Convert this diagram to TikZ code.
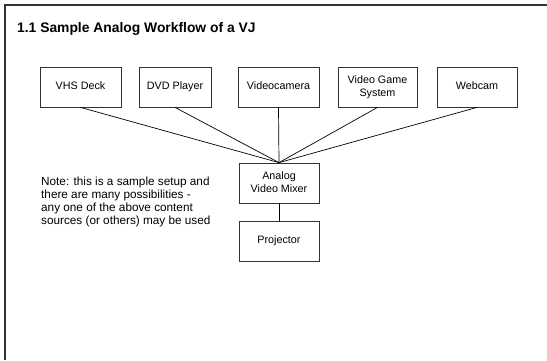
\documentclass[tikz,border=0pt]{standalone}
\usepackage{fontspec}
\setmainfont{Liberation Sans}
\begin{document}
\begin{tikzpicture}[x=1bp,y=-1bp,
  srcbox/.style={draw=black!80, line width=0.8bp, inner sep=0pt, minimum height=40bp,
    align=center, font=\fontsize{10.8}{13.3}\selectfont,
    execute at begin node={\vphantom{Ag}}, execute at end node={\vphantom{g}}},
  link/.style={draw=black, line width=0.7bp},
  frame/.style={draw=black!80, line width=2.8bp}]
\useasboundingbox (0,0) rectangle (547,360);
\draw[frame] (5,360) -- (5,5) -- (547,5);
\node[anchor=base west, inner sep=0pt, font=\fontsize{13.9}{16}\selectfont\bfseries] (title) at (17,32) {1.1 Sample Analog Workflow of a VJ};
\node[srcbox, minimum width=81bp] (vhs) at (80.5,87) {VHS Deck};
\node[srcbox, minimum width=72bp] (dvd) at (175,87) {DVD Player};
\node[srcbox, minimum width=81bp] (cam) at (278.5,87) {Videocamera};
\node[srcbox, minimum width=79bp] (game) at (377.5,87) {Video Game\\System};
\node[srcbox, minimum width=80bp] (web) at (477,87) {Webcam};
\node[srcbox, minimum width=80bp] (mixer) at (279,183) {Analog\\Video Mixer};
\node[srcbox, minimum width=80bp] (proj) at (279,241) {Projector};
\node[anchor=north west, inner sep=0pt, align=left, font=\fontsize{11.8}{13.3}\selectfont] (note) at (41,176.5)
  {Note: this is a sample setup and\\there are many possibilities -\\any one of the above content\\sources (or others) may be used};
\foreach \s in {vhs,dvd,cam,game,web} \draw[link] (\s.south) -- (mixer.north);
\draw[link] (mixer.south) -- (proj.north);
\end{tikzpicture}
\end{document}
